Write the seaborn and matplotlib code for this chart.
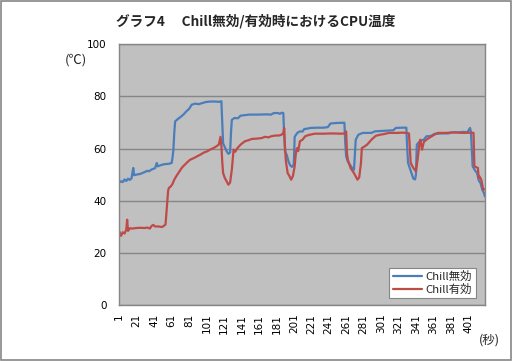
import matplotlib
matplotlib.use("Agg")
import matplotlib.pyplot as plt
import seaborn as sns
import pandas as pd
from matplotlib.patches import Rectangle
from matplotlib.lines import Line2D

sns.set_theme(style="white")
plt.rcParams['font.family'] = ['Noto Sans CJK JP', 'DejaVu Sans']

# seconds / temperature (Chill無効)
off_sec = [1, 3, 5, 7, 9, 11, 13, 15, 17, 18, 20, 25, 30, 33, 35, 38, 42, 44, 45, 48,
           52, 58, 61, 62, 63, 64, 65, 68, 72, 75, 78, 81, 84, 88, 92, 96, 100, 105, 110, 115,
           118, 119, 120, 122, 124, 126, 128, 129, 130, 133, 137, 140, 145, 150, 160, 170, 175, 178, 183, 185,
           187, 189, 190, 191, 193, 195, 197, 199, 201, 202, 205, 208, 211, 213, 216, 220, 228, 235, 240, 243,
           250, 259, 260, 261, 263, 266, 268, 270, 271, 272, 275, 280, 290, 294, 305, 315, 318, 325, 330, 331,
           332, 334, 336, 338, 340, 341, 342, 346, 350, 353, 358, 362, 370, 378, 382, 390, 395, 400, 403, 404,
           405, 406, 409, 411, 413, 415, 417, 419, 420]
off_val = [47.0, 47.5, 47.2, 48.2, 47.6, 48.5, 48.0, 48.6, 52.6, 49.8, 50.0, 50.3, 51.0, 51.5, 51.3, 52.0, 52.5, 54.5, 53.2, 53.6,
           54.0, 54.2, 54.5, 56.5, 59.5, 66.0, 70.4, 71.3, 72.3, 73.2, 74.3, 75.2, 76.8, 77.2, 77.0, 77.4, 77.8, 78.0, 78.0, 77.9,
           78.1, 70.0, 62.0, 60.5, 59.0, 58.0, 58.5, 66.0, 71.0, 71.7, 71.6, 72.6, 72.8, 73.0, 73.0, 73.1, 73.0, 73.6, 73.6, 73.3,
           73.7, 73.6, 65.0, 58.9, 57.5, 55.0, 53.5, 53.0, 54.0, 64.5, 66.0, 66.6, 66.5, 67.5, 67.6, 67.9, 68.0, 68.0, 68.2, 69.6,
           69.8, 69.9, 62.0, 57.0, 55.0, 53.5, 52.5, 51.9, 58.0, 63.4, 65.3, 66.0, 66.0, 66.6, 66.8, 67.0, 67.9, 68.0, 68.0, 60.0,
           54.5, 52.5, 50.5, 48.5, 48.2, 50.0, 61.5, 63.0, 63.4, 64.7, 64.8, 65.6, 65.8, 65.8, 66.2, 66.2, 66.4, 66.3, 67.9, 66.5,
           60.0, 53.2, 51.5, 50.7, 47.8, 46.8, 44.3, 43.0, 41.7]

# seconds / temperature (Chill有効)
on_sec = [1, 3, 5, 7, 9, 10, 11, 13, 16, 20, 25, 30, 33, 36, 38, 40, 42, 46, 50, 52,
          54, 55, 56, 57, 58, 60, 62, 64, 67, 70, 73, 76, 79, 82, 86, 90, 94, 98, 102, 105,
          109, 112, 115, 117, 118, 119, 120, 122, 124, 126, 128, 130, 132, 134, 136, 138, 141, 145, 149, 153,
          158, 164, 168, 172, 175, 180, 184, 187, 189, 190, 191, 192, 194, 196, 198, 200, 202, 203, 204, 205,
          206, 208, 211, 214, 218, 225, 235, 245, 255, 260, 261, 262, 263, 266, 270, 274, 276, 278, 279, 282,
          285, 290, 295, 300, 305, 310, 320, 325, 330, 333, 334, 335, 338, 341, 343, 345, 346, 348, 350, 353,
          358, 362, 366, 375, 385, 395, 405, 407, 408, 412, 413, 414, 416, 418, 420]
on_val = [28.3, 26.6, 28.0, 27.5, 29.0, 32.8, 28.5, 29.5, 29.4, 29.6, 29.7, 29.6, 29.8, 29.4, 30.4, 30.8, 30.2, 30.2, 30.0, 30.4,
          31.0, 35.3, 40.0, 44.0, 45.0, 45.5, 46.5, 48.1, 49.8, 51.3, 52.8, 53.8, 54.8, 55.7, 56.3, 57.0, 57.7, 58.5, 59.0, 59.6,
          60.2, 60.8, 61.5, 64.5, 61.0, 55.0, 50.6, 48.7, 47.5, 46.2, 47.0, 52.0, 59.6, 58.8, 60.0, 60.8, 61.8, 62.8, 63.2, 63.7,
          63.8, 64.0, 64.5, 64.3, 64.7, 65.0, 65.0, 65.3, 66.0, 67.9, 60.0, 55.0, 50.6, 49.5, 48.1, 49.5, 53.2, 57.0, 59.6, 60.2,
          59.0, 62.8, 63.4, 64.7, 65.2, 65.7, 65.7, 65.8, 65.7, 65.8, 66.6, 58.0, 55.7, 52.6, 50.6, 48.1, 49.0, 54.5, 60.2, 60.8,
          61.5, 63.4, 64.9, 65.3, 65.6, 66.0, 66.0, 66.1, 66.0, 65.8, 60.0, 54.5, 52.6, 51.3, 56.0, 62.0, 63.4, 59.6, 62.5, 63.4,
          64.5, 65.3, 66.0, 66.0, 66.2, 66.0, 66.1, 66.0, 53.2, 52.6, 48.7, 49.3, 48.0, 44.3, 44.5]

series_names = ['Chill無効', 'Chill有効']
x_ticks = list(range(1, 402, 20))
y_ticks = [0, 20, 40, 60, 80, 100]
title = 'グラフ4\u3000 Chill無効/有効時におけるCPU温度'

df = pd.concat([
    pd.DataFrame({'sec': off_sec, 'temp': off_val, 'series': series_names[0]}),
    pd.DataFrame({'sec': on_sec, 'temp': on_val, 'series': series_names[1]}),
])

colors = {'Chill無効': '#4a7ebb', 'Chill有効': '#be4b48'}

fig = plt.figure(figsize=(5.12, 3.61), dpi=100)
fig.patch.set_facecolor('white')
ax = fig.add_axes([0.233, 0.154, 0.714, 0.724])
ax.set_facecolor('#c0c0c0')

sns.lineplot(data=df, x='sec', y='temp', hue='series', palette=colors,
             linewidth=1.6, ax=ax, legend=False, sort=False, estimator=None)

ax.set_xlim(1, 420)
ax.set_ylim(0, 100)
ax.set_yticks(y_ticks)
ax.set_xticks(x_ticks)
ax.set_xticklabels([str(t) for t in x_ticks], rotation=90, fontsize=7.5, family='DejaVu Sans')
ax.set_yticklabels([str(t) for t in y_ticks], fontsize=7.5, family='DejaVu Sans')
ax.tick_params(axis='both', length=0, colors='black')
ax.tick_params(axis='y', pad=9)
ax.tick_params(axis='x', pad=6)
ax.grid(axis='y', color='#868686', linewidth=1.0)
ax.grid(axis='x', visible=False)
ax.set_axisbelow(True)
for sp in ax.spines.values():
    sp.set_color('#868686')
    sp.set_linewidth(1.0)
ax.set_xlabel('')
ax.set_ylabel('')

handles = [Line2D([0], [0], color=colors[n], linewidth=1.6) for n in series_names]
leg = ax.legend(handles, series_names, loc='lower right', fontsize=8.2,
                frameon=True, fancybox=False, framealpha=1.0, edgecolor='#868686',
                handlelength=2.6, handletextpad=0.3, borderpad=0.3, labelspacing=0.15,
                bbox_to_anchor=(0.99, 0.005))
leg.get_frame().set_linewidth(0.8)

fig.text(0.5, 0.94, title, ha='center', va='center', fontsize=9.8, fontweight='bold')
fig.text(0.148, 0.835, '(℃)', ha='center', va='center', fontsize=9.5)
fig.text(0.955, 0.058, '(秒)', ha='center', va='center', fontsize=9)

fig.add_artist(Rectangle((0.001, 0.002), 0.997, 0.995, transform=fig.transFigure,
                         fill=False, edgecolor='#868686', linewidth=1.2))

fig.savefig('out.png', dpi=100, facecolor='white')
